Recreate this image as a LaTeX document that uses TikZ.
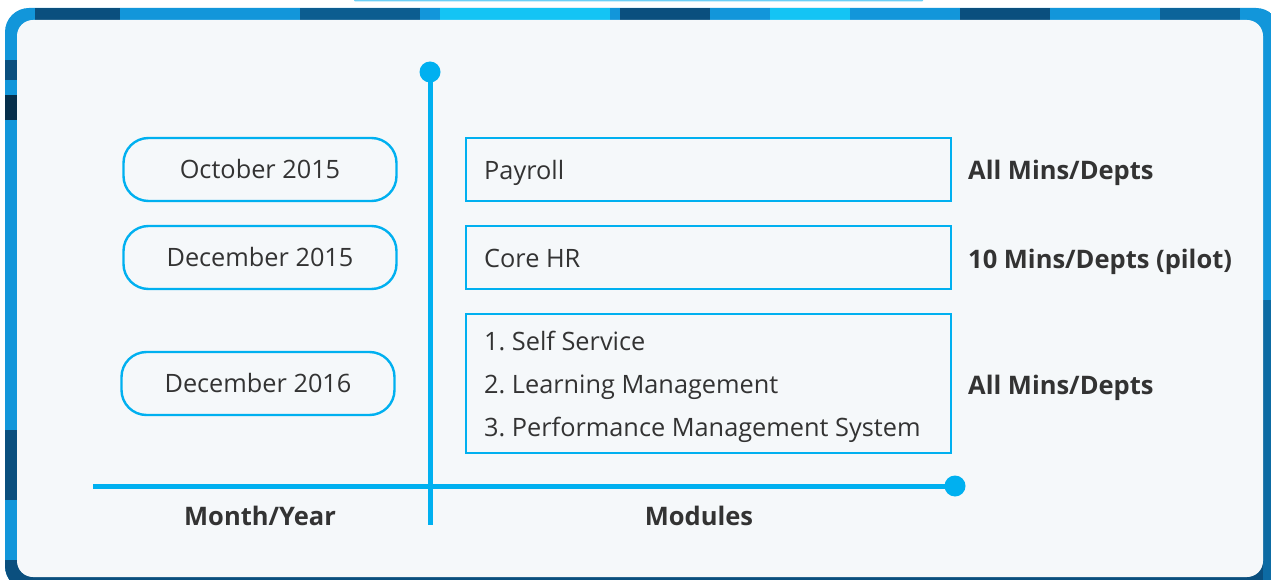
\documentclass[tikz,border=0pt]{standalone}
\usepackage{fontspec}
\setmainfont{Open Sans}
\frenchspacing
\definecolor{axisblue}{HTML}{00B0F0}
\definecolor{framebase}{HTML}{1296DA}
\definecolor{framedark}{HTML}{0A4F7E}
\definecolor{framecyan}{HTML}{14C4F4}
\definecolor{panelfill}{HTML}{F5F8FA}
\definecolor{ink}{HTML}{333333}
\definecolor{topline}{HTML}{6CCFF6}
\tikzset{
  capcentred/.style={text height=18.1pt, text depth=0pt},
  datebox/.style={draw=axisblue, line width=2.4pt, rounded corners=25pt, fill=panelfill,
    minimum width=273pt, minimum height=63pt, inner sep=0pt, text=ink, capcentred,
    font=\fontsize{25.3}{30}\selectfont},
  modbox/.style={draw=axisblue, line width=2.4pt, fill=panelfill, minimum width=485pt,
    inner sep=0pt},
  modtext/.style={anchor=west, inner sep=0pt, text=ink, capcentred,
    font=\fontsize{25.3}{30}\selectfont},
  scope label/.style={anchor=west, text=ink, inner sep=0pt, capcentred,
    font=\bfseries\fontsize{25.5}{30}\selectfont},
  axis label/.style={text=ink, inner sep=0pt, capcentred,
    font=\bfseries\fontsize{25.5}{30}\selectfont},
  axisline/.style={draw=axisblue, line width=5pt},
  axisdot/.style={fill=axisblue}
}
\begin{document}
\begin{tikzpicture}[x=1pt,y=-1pt]
\useasboundingbox (0,0) rectangle (1271,580);
\clip (0,0) rectangle (1271,580);
\fill[white] (0,0) rectangle (1271,580);
% thin light bar along the very top
\fill[topline, rounded corners=1pt] (354,-2) rectangle (923,1.5);
% blue frame with darker and brighter streaks
\begin{scope}
  \clip[rounded corners=24pt] (5,8) rectangle (1280,590);
  \fill[framebase] (0,0) rectangle (1280,590);
  \fill[framedark] (35,8) rectangle (120,20);
  \fill[framedark!80!framebase] (300,8) rectangle (420,20);
  \fill[framecyan] (440,8) rectangle (610,20);
  \fill[framedark] (620,8) rectangle (710,20);
  \fill[framecyan] (770,8) rectangle (850,20);
  \fill[framedark] (960,8) rectangle (1050,20);
  \fill[framedark!70!framebase] (1160,8) rectangle (1240,20);
  \fill[framedark] (0,60) rectangle (17,80);
  \fill[framedark!60!black] (0,95) rectangle (17,120);
  \fill[framedark] (0,430) rectangle (17,500);
  \fill[framedark] (0,560) rectangle (1280,590);
  \fill[framedark!60!framebase] (1263,300) rectangle (1280,590);
\end{scope}
% white panel
\fill[panelfill, rounded corners=16pt] (17,20) rectangle (1263,577);

% axes
\coordinate (vtop) at (430,72);
\coordinate (vbot) at (430,525);
\coordinate (hleft) at (93,486);
\coordinate (hright) at (955,486);
\draw[axisline] (vtop) -- (vbot);
\draw[axisline] (hleft) -- (hright);
\fill[axisdot] (vtop) circle (10.5pt);
\fill[axisdot] (hright) circle (10.5pt);

% dates
\node[datebox] (oct15) at (260,169.5) {October 2015};
\node[datebox] (dec15) at (260,257.5) {December 2015};
\node[datebox] (dec16) at (258,383.5) {December 2016};

% modules
\node[modbox, minimum height=63pt] (payroll) at (708.5,169.5) {};
\node[modbox, minimum height=63pt] (corehr) at (708.5,257.5) {};
\node[modbox, minimum height=139pt] (others) at (708.5,383.5) {};
\node[modtext] (payrolltxt) at (484,170) {Payroll};
\node[modtext] (corehrtxt) at (484,258) {Core HR};
\node[modtext] (selfsvc) at (484,341.7) {1. Self Service};
\node[modtext] (learning) at (484,384.5) {2. Learning Management};
\node[modtext] (perform) at (484,427.3) {3. Performance Management System};

% scope of roll-out
\node[scope label] (s1) at (968,170) {All Mins/Depts};
\node[scope label] (s2) at (968,259) {10 Mins/Depts (pilot)};
\node[scope label] (s3) at (968,385) {All Mins/Depts};

% axis captions
\node[axis label] (monthyear) at (260,516) {Month/Year};
\node[axis label] (modules) at (699,516) {Modules};
\end{tikzpicture}
\end{document}
